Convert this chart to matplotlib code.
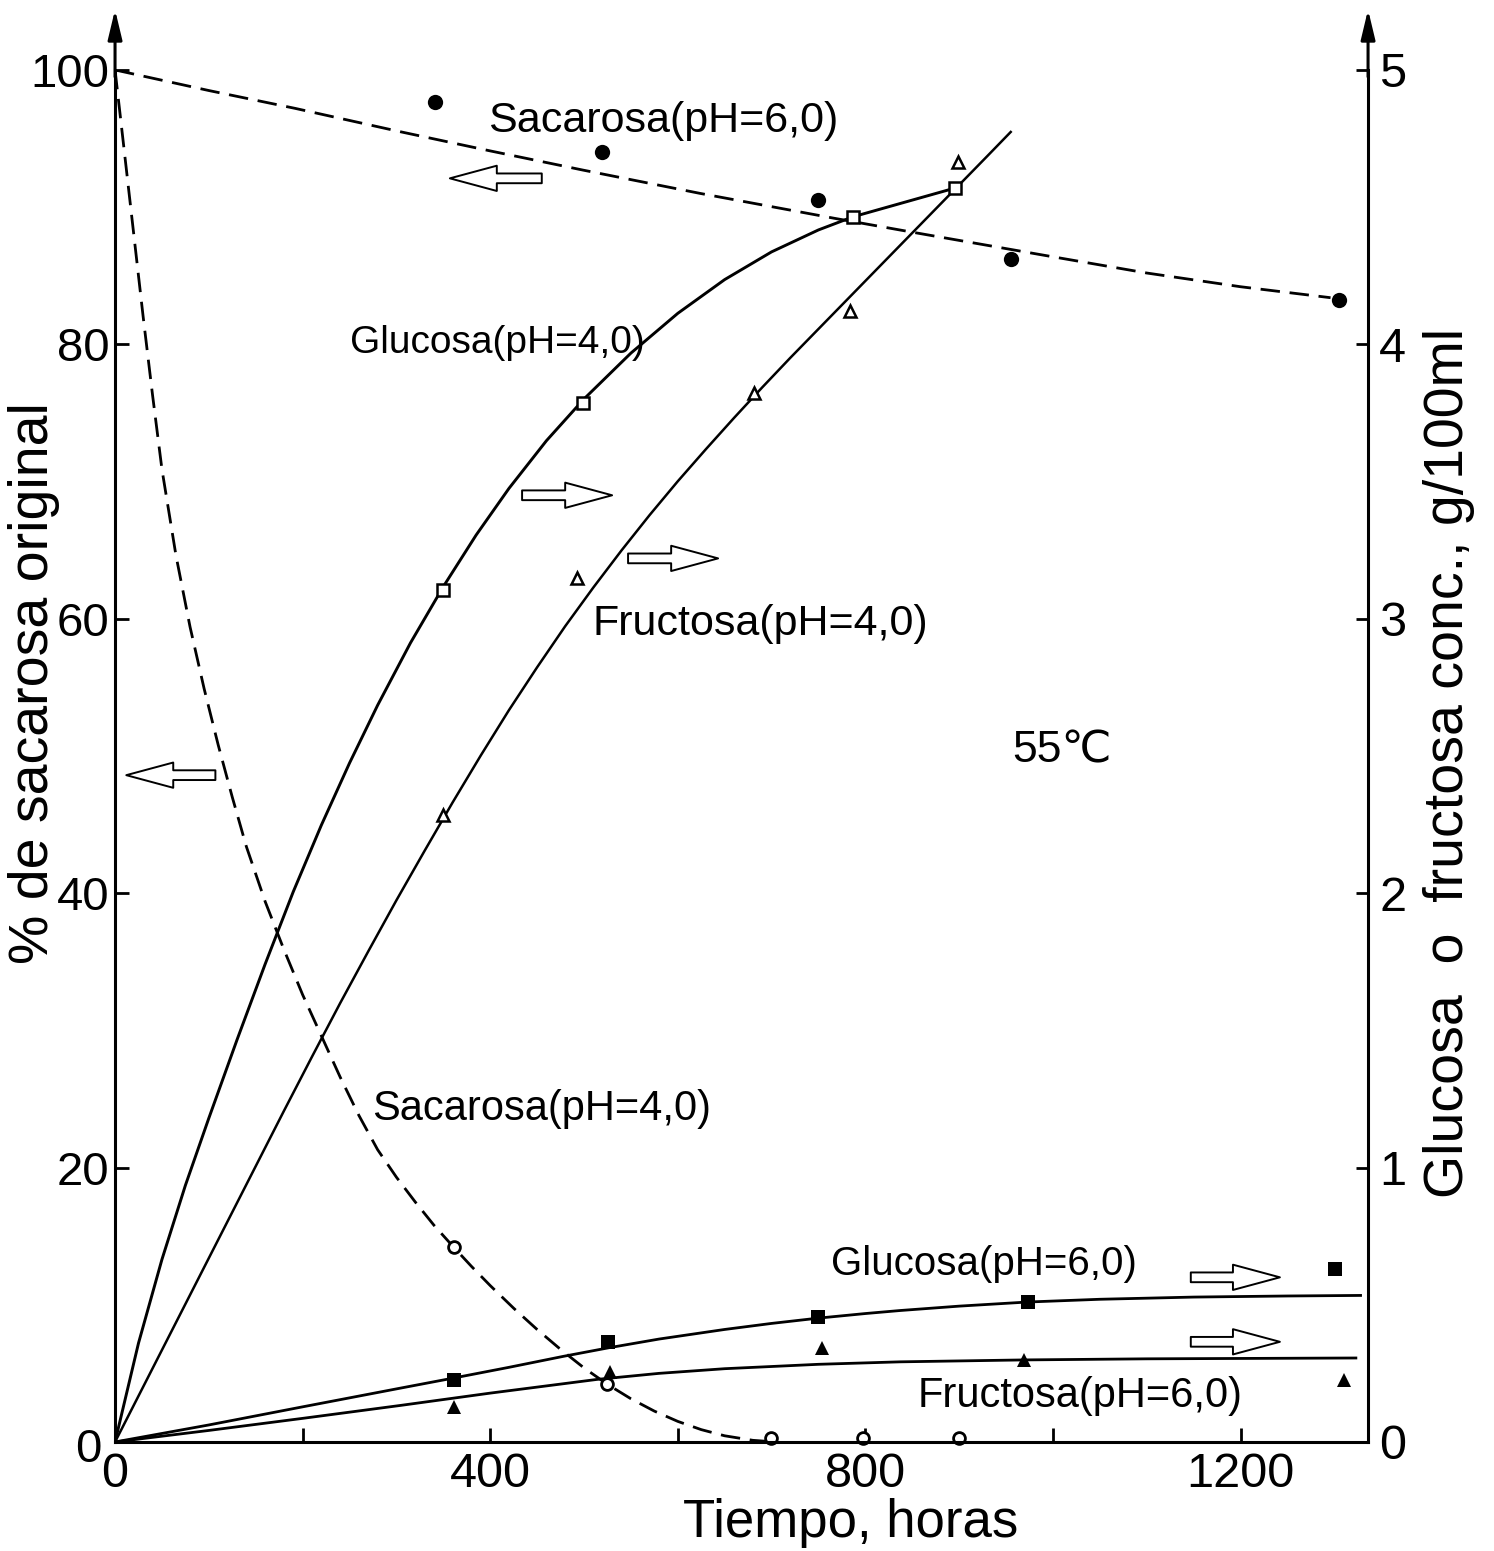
import matplotlib
matplotlib.use("Agg")
import matplotlib.pyplot as plt
from matplotlib.transforms import ScaledTranslation

plt.rcParams['font.family'] = ['Liberation Sans', 'DejaVu Sans']

# --- sacarosa, % of original (left axis) ---
sac6_t = [341, 519, 749, 955, 1305]
sac6_v = [97.7, 94.0, 90.5, 86.2, 83.2]
sac6_fit_t = [0, 100, 192, 304, 400, 499, 624, 766, 848, 990, 1100, 1200, 1296]
sac6_fit_v = [100, 98.5, 97.2, 95.5, 94.1, 92.7, 91.0, 89.2, 88.2, 86.5, 85.2,
              84.2, 83.4]

sac4_t = [361, 525, 699, 798, 900]
sac4_v = [14.2, 4.2, 0.3, 0.3, 0.3]
sac4_fit_t = [0, 10, 20, 30, 40, 50, 65, 80, 95, 110, 125, 140, 160, 180, 200,
              220, 240, 260, 280, 300, 320, 340, 361, 380, 400, 425, 450, 475,
              500, 525, 550, 575, 600, 625, 650, 680, 700]
sac4_fit_v = [100, 94.0, 88.0, 82.0, 76.3, 70.9, 64.6, 59.4, 54.9, 50.8, 47.0,
              43.4, 39.4, 35.9, 32.6, 29.6, 26.6, 23.8, 21.3, 19.3, 17.5, 15.8,
              14.2, 12.8, 11.4, 9.75, 8.2, 6.75, 5.4, 4.2, 3.15, 2.25, 1.5, 0.9,
              0.45, 0.12, 0.02]

# --- glucosa / fructosa, g/100 ml (right axis) ---
glu4_t = [350, 499, 787, 896]
glu4_v = [3.105, 3.786, 4.464, 4.570]
glu4_fit_t = [0, 25, 50, 75, 100, 130, 160, 190, 220, 250, 280, 315, 350, 385,
              420, 460, 500, 550, 600, 650, 700, 750, 787, 896]
glu4_fit_v = [0, 0.36, 0.665, 0.935, 1.18, 1.465, 1.741, 2.005, 2.248, 2.474,
              2.685, 2.912, 3.117, 3.305, 3.475, 3.649, 3.801, 3.968, 4.113,
              4.236, 4.337, 4.417, 4.465, 4.570]

fru4_t = [350, 493, 681, 784, 899]
fru4_v = [2.285, 3.149, 3.823, 4.12, 4.665]
fru4_fit_t = [0, 150, 180, 210, 240, 270, 300, 330, 360, 390, 420, 450, 480,
              510, 540, 570, 600, 630, 660, 690, 720, 750, 780, 810, 840, 870,
              900, 930, 955]
fru4_fit_v = [0, 1.005, 1.206, 1.404, 1.599, 1.788, 1.974, 2.154, 2.331, 2.502,
              2.667, 2.823, 2.973, 3.114, 3.249, 3.378, 3.501, 3.618, 3.732,
              3.843, 3.951, 4.056, 4.161, 4.266, 4.371, 4.476, 4.581, 4.686,
              4.774]

glu6_t = [361, 526, 749, 973, 1301]
glu6_v = [0.226, 0.364, 0.456, 0.510, 0.630]
glu6_fit_t = [0, 100, 200, 304, 361, 420, 478, 526, 580, 650, 700, 749, 800,
              837, 900, 973, 1050, 1150, 1250, 1328]
glu6_fit_v = [0, 0.062, 0.128, 0.196, 0.233, 0.272, 0.312, 0.343, 0.375, 0.410,
              0.432, 0.451, 0.468, 0.479, 0.495, 0.510, 0.520, 0.528, 0.532,
              0.534]

fru6_t = [361, 528, 754, 969, 1310]
fru6_v = [0.128, 0.255, 0.343, 0.299, 0.226]
fru6_fit_t = [0, 100, 200, 304, 400, 514, 580, 650, 750, 837, 969, 1100, 1323]
fru6_fit_v = [0, 0.042, 0.086, 0.133, 0.178, 0.228, 0.250, 0.267, 0.283, 0.292,
              0.299, 0.303, 0.306]

x_ticks = [0, 200, 400, 600, 800, 1000, 1200]
x_ticklabels = ['0', '', '400', '', '800', '', '1200']
left_ticks = [0, 20, 40, 60, 80, 100]
right_ticks = [0, 1, 2, 3, 4, 5]

fig = plt.figure(figsize=(14.94, 15.51), dpi=100)
ax = fig.add_axes([0.0770, 0.0703, 0.8387, 0.8846])
ax2 = ax.twinx()

ax.set_xlim(0, 1336)
ax.set_ylim(0, 100)
ax2.set_ylim(0, 5)

dash = (0, (7, 3.5))
ax.plot(sac6_fit_t, sac6_fit_v, color='k', lw=2, ls=dash)
ax.plot(sac4_fit_t, sac4_fit_v, color='k', lw=2, ls=dash)
ax.plot(sac6_t, sac6_v, 'o', color='k', ms=11, mew=0)
ax.plot(sac4_t, sac4_v, 'o', mfc='white', mec='k', ms=8.5, mew=2, clip_on=False)

ax2.plot(glu4_fit_t, glu4_fit_v, color='k', lw=2.1)
ax2.plot(fru4_fit_t, fru4_fit_v, color='k', lw=1.8)
ax2.plot(glu6_fit_t, glu6_fit_v, color='k', lw=2)
ax2.plot(fru6_fit_t, fru6_fit_v, color='k', lw=2)
ax2.plot(glu4_t, glu4_v, 's', mfc='white', mec='k', ms=9, mew=1.8)
ax2.plot(fru4_t, fru4_v, '^', mfc='white', mec='k', ms=9, mew=1.8)
ax2.plot(glu6_t, glu6_v, 's', color='k', ms=10.5, mew=0)
ax2.plot(fru6_t, fru6_v, '^', color='k', ms=10.5, mew=0)

# spines: left, right and bottom only
for s in ('top', 'right'):
    ax.spines[s].set_visible(False)
for s in ('top', 'left', 'bottom'):
    ax2.spines[s].set_visible(False)
for s in ('left', 'bottom'):
    ax.spines[s].set_linewidth(2.2)
ax2.spines['right'].set_linewidth(2.2)

ax.set_xticks(x_ticks)
ax.set_xticklabels(x_ticklabels)
ax.set_yticks(left_ticks)
ax2.set_yticks(right_ticks)
ax.tick_params(axis='both', direction='in', length=10, width=2)
ax.tick_params(axis='x', pad=7, labelsize=35)
ax.tick_params(axis='y', pad=4, labelsize=34)
ax2.tick_params(axis='y', direction='in', length=9, width=2, labelsize=35, pad=8)

# nudge the left "0" away from the bottom "0"
lbl0 = ax.get_yticklabels()[0]
lbl0.set_transform(lbl0.get_transform() +
                   ScaledTranslation(-6 / 72, -2 / 72, fig.dpi_scale_trans))

# arrow heads on top of both vertical axes
for xa in (0, 1):
    ax.annotate('', xy=(xa, 1.044), xytext=(xa, 0.995), xycoords='axes fraction',
                arrowprops=dict(arrowstyle='-|>,head_length=1.8,head_width=0.43',
                                lw=2.2, color='k', shrinkA=0, shrinkB=0,
                                mutation_scale=10),
                annotation_clip=False)

ax.set_ylabel('% de sacarosa original', fontsize=40)
ax.yaxis.set_label_coords(-0.044, 0.553)
ax2.set_ylabel('Glucosa  o  fructosa conc., g/100ml', fontsize=40)
ax2.yaxis.set_label_coords(1.044, 0.495)
ax.set_xlabel('Tiempo, horas', fontsize=38)
ax.xaxis.set_label_coords(0.587, -0.041)

# curve labels
ax.text(398, 95.5, 'Sacarosa(pH=6,0)', fontsize=31, va='baseline')
ax.text(251, 79.4, 'Glucosa(pH=4,0)', fontsize=28, va='baseline')
ax.text(509, 58.8, 'Fructosa(pH=4,0)', fontsize=31, va='baseline')
ax.text(957, 49.5, '55℃', fontsize=32, va='baseline')
ax.text(274, 23.5, 'Sacarosa(pH=4,0)', fontsize=30, va='baseline')
ax.text(763, 12.2, 'Glucosa(pH=6,0)', fontsize=29, va='baseline')
ax.text(856, 2.55, 'Fructosa(pH=6,0)', fontsize=30, va='baseline')

# hollow arrows pointing to the axis each curve belongs to
block = dict(arrowstyle='simple,head_length=1.3,head_width=0.7,tail_width=0.27',
             mutation_scale=26, fc='white', ec='k', lw=1.4, shrinkA=0, shrinkB=0)
left_arrows = [((357, 92.1), (455, 92.1)),
               ((12, 48.6), (107, 48.6))]
right_arrows = [((434, 69.0), (530, 69.0)),
                ((547, 64.4), (643, 64.4)),
                ((1147, 12.0), (1242, 12.0)),
                ((1147, 7.3), (1242, 7.3))]
for tip, tail in left_arrows:
    ax.annotate('', xy=tip, xytext=tail, arrowprops=block)
for tail, tip in right_arrows:
    ax.annotate('', xy=tip, xytext=tail, arrowprops=block)

fig.savefig('out.png', dpi=100, facecolor='white')
